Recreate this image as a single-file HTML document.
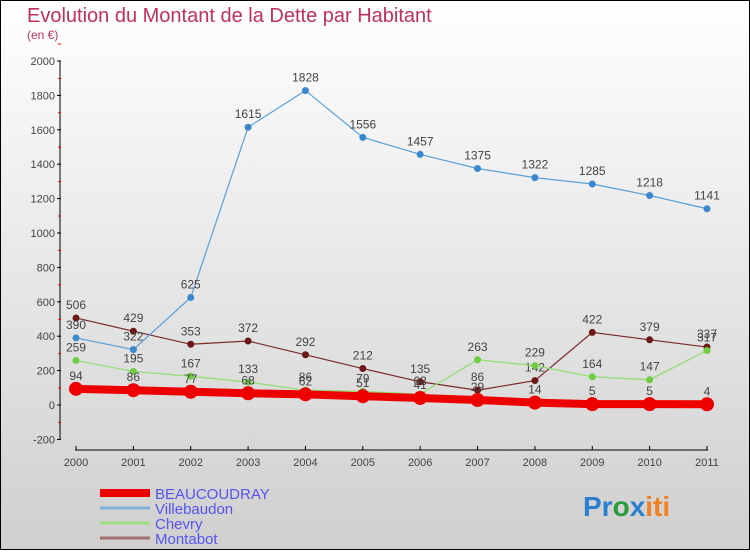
<!DOCTYPE html>
<html><head><meta charset="utf-8"><style>
body{margin:0;}
#c{width:750px;height:550px;position:relative;font-family:"Liberation Sans",sans-serif;}
svg text{font-family:"Liberation Sans",sans-serif;}
</style></head><body>
<div id="c">
<svg id="s" width="750" height="550" xmlns="http://www.w3.org/2000/svg">
<defs><linearGradient id="bg" x1="0" y1="0" x2="0" y2="1"><stop offset="0" stop-color="#ffffff"/><stop offset="1" stop-color="#cfcfcf"/></linearGradient></defs>
<rect x="0.5" y="0.5" width="749" height="549" fill="url(#bg)" stroke="#000"/>
<text x="27" y="22" font-size="20" fill="#c0305c">Evolution du Montant de la Dette par Habitant</text>
<text x="27" y="39" font-size="12" fill="#c0305c">(en €)</text>
<g id="axes"></g><g id="series"></g><g id="legend"></g>
<text x="583" y="516" font-size="28" font-weight="bold"><tspan fill="#2a7fd0">Pr</tspan><tspan fill="#2a9a3a">o</tspan><tspan fill="#2a7fd0">x</tspan><tspan fill="#f08020">iti</tspan></text>
</svg></div>
<script>
const years=["2000","2001","2002","2003","2004","2005","2006","2007","2008","2009","2010","2011"];
const yTicks=[-200,0,200,400,600,800,1000,1200,1400,1600,1800,2000];
const seriesNames=["BEAUCOUDRAY","Villebaudon","Chevry","Montabot"];
const beaucoudray=[94,86,77,68,62,51,41,29,14,5,5,4];
const villebaudon=[390,322,625,1615,1828,1556,1457,1375,1322,1285,1218,1141];
const chevry=[259,195,167,133,86,79,63,263,229,164,147,317];
const montabot=[506,429,353,372,292,212,135,86,142,422,379,337];
const NS="http://www.w3.org/2000/svg";
function x(i){return 76+i*(707-76)/(years.length-1);}
function y(v){return 405-v*0.172;}
function mk(tag,attrs,parent){const e=document.createElementNS(NS,tag);for(const k in attrs)e.setAttribute(k,attrs[k]);parent.appendChild(e);return e;}
const ax=document.getElementById('axes');
let a=mk('line',{x1:60,y1:61,x2:60,y2:y(-200),stroke:'#000'},ax);

a=mk('line',{x1:75,y1:450,x2:708,y2:450,stroke:'#000'},ax);

yTicks.forEach(v=>{
  mk('line',{x1:57,y1:y(v),x2:61,y2:y(v),stroke:'#000'},ax);
  mk('line',{x1:58,y1:y(v)-17,x2:61,y2:y(v)-17,stroke:'#e00'},ax);
  const t=mk('text',{x:55,y:y(v)+4,'font-size':11,fill:'#444','text-anchor':'end'},ax);t.textContent=v;
  
  
});
years.forEach((yr,i)=>{
  mk('line',{x1:x(i),y1:446,x2:x(i),y2:450,stroke:'#000'},ax);
  const t=mk('text',{x:x(i),y:466,'font-size':11,fill:'#444','text-anchor':'middle'},ax);t.textContent=yr;
  
  
});
const sg=document.getElementById('series');
function draw(vals,color,w,r,dot,name,labelColor){
  const g=mk('g',{},sg);
  
  
  mk('polyline',{points:vals.map((v,i)=>x(i)+','+y(v)).join(' '),fill:'none',stroke:color,'stroke-width':w},g);
  vals.forEach((v,i)=>{
    const c=mk('circle',{cx:x(i),cy:y(v),r:r,fill:dot},g);
    
    
    const t=mk('text',{x:x(i),y:y(v)-9,'font-size':12,fill:'#444','text-anchor':'middle'},g);t.textContent=v;
    
    
  });
}
draw(montabot,'#7a2a2a',1.2,3.5,'#6a1818','montabot');
draw(chevry,'#90dd70',1.2,3.5,'#70cc40','chevry');
draw(villebaudon,'#5aa0d8',1.2,3.5,'#3a88cc','villebaudon');
draw(beaucoudray,'#ee0000',8,7,'#ee0000','beaucoudray');
const lg=document.getElementById('legend');
const lcol=['#ee0000','#7fb0d8','#a0dc80','#a07070'];
const lw=[8,3,3,3];
seriesNames.forEach((n,i)=>{
  const yy=493+i*15;
  const l=mk('line',{x1:100,y1:yy,x2:150,y2:yy,stroke:lcol[i],'stroke-width':lw[i]},lg);
  
  
  const t=mk('text',{x:155,y:yy+6,'font-size':15,fill:'#5555ee'},lg);t.textContent=n;
  
  
});
</script>
</body></html>
